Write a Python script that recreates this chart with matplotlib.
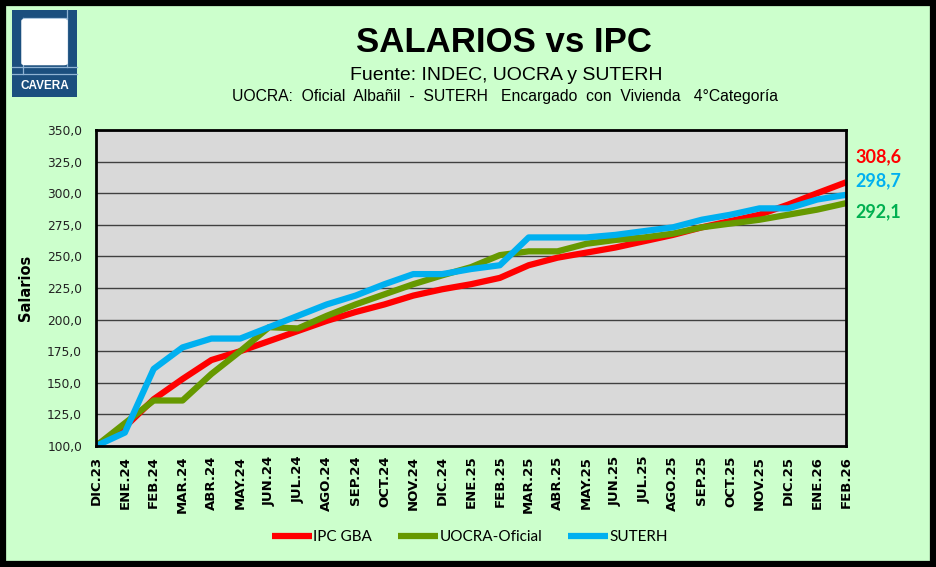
import matplotlib.pyplot as plt
from matplotlib.patches import Rectangle, FancyBboxPatch
from matplotlib.lines import Line2D

months = ['DIC.23', 'ENE.24', 'FEB.24', 'MAR.24', 'ABR.24', 'MAY.24', 'JUN.24', 'JUL.24', 'AGO.24',
          'SEP.24', 'OCT.24', 'NOV.24', 'DIC.24', 'ENE.25', 'FEB.25', 'MAR.25', 'ABR.25', 'MAY.25',
          'JUN.25', 'JUL.25', 'AGO.25', 'SEP.25', 'OCT.25', 'NOV.25', 'DIC.25', 'ENE.26', 'FEB.26']

ipc = [100, 115, 137, 153, 168, 175, 183, 191, 199, 206, 212, 219, 224, 228, 233, 243, 249, 253,
       257, 262, 267, 273, 278, 283, 291, 300, 308.6]
uocra = [100, 118, 136, 136, 157, 175, 194, 193, 203, 212, 220, 228, 235, 241.5, 251, 254, 254, 260,
         263, 265, 268, 273, 276, 279, 283, 287, 292.1]
suterh = [100, 110.6, 161, 178, 185, 185, 194, 203, 212, 219, 228, 236, 236, 240, 243, 265, 265, 265,
          267, 270, 273, 279, 283, 288, 288, 295, 298.7]

yticks = [100, 125, 150, 175, 200, 225, 250, 275, 300, 325, 350]

W, H = 936, 567
bg = '#CCFFCC'
fig = plt.figure(figsize=(9.36, 5.67), dpi=100, facecolor=bg)
plt.rcParams['font.family'] = ['Liberation Sans', 'DejaVu Sans']

def fx(px):
    return px / W

def fy(py):
    return 1 - py / H

# outer frame
fig.patches.append(Rectangle((0.003, 0.005), 0.994, 0.99, transform=fig.transFigure,
                             fill=False, edgecolor='black', linewidth=4.5))

# logo
blue = '#1B4F7E'
light = '#8FB3D3'
fig.patches.append(Rectangle((fx(12), fy(97)), fx(65), 87 / H, transform=fig.transFigure,
                             facecolor=blue, edgecolor='none'))
for xs, ys in [((22.7, 66.5), (18, 18)), ((66.5, 66.5), (10, 66.5)), ((12, 77), (66.5, 66.5)),
               ((22.7, 22.7), (18, 74)), ((12, 77), (74, 74))]:
    fig.lines.append(Line2D([fx(v) for v in xs], [fy(v) for v in ys], transform=fig.transFigure,
                            color=light, linewidth=0.9))
fig.patches.append(FancyBboxPatch((fx(25), fy(63)), fx(39), 42 / H, transform=fig.transFigure,
                                  boxstyle='round,pad=0.004', facecolor='white', edgecolor='none',
                                  zorder=5))
fig.text(fx(44.5), fy(86), 'CAVERA', color='white', fontsize=8.5, fontweight='bold',
         ha='center', va='center')

fig.text(fx(504), fy(43), 'SALARIOS vs IPC', fontsize=25, fontweight='bold', ha='center', va='center')
fig.text(fx(506), fy(75), 'Fuente: INDEC, UOCRA y SUTERH', fontsize=14, ha='center', va='center')
fig.text(fx(505), fy(97), 'UOCRA:  Oficial  Albañil  -  SUTERH   Encargado  con  Vivienda   4°Categoría',
         fontsize=11.3, ha='center', va='center')

ax = fig.add_axes([fx(96), fy(446), fx(750), 316 / H])
ax.set_facecolor('#D9D9D9')
x = list(range(len(months)))
ax.plot(x, ipc, color='#FF0000', linewidth=4.5, label='IPC GBA', solid_capstyle='butt')
ax.plot(x, uocra, color='#669900', linewidth=4.5, label='UOCRA-Oficial', solid_capstyle='butt')
ax.plot(x, suterh, color='#00B0F0', linewidth=4.5, label='SUTERH', solid_capstyle='butt')

ax.set_xlim(0, len(months) - 1)
ax.set_ylim(100, 350)
ax.set_yticks(yticks)
ax.set_yticklabels([f'{v:.1f}'.replace('.', ',') for v in yticks], fontsize=8.8,
                   family='DejaVu Sans', color='#222222')
ax.set_xticks(x)
ax.set_xticklabels(months, rotation=90, fontsize=9.5, fontweight='bold', family='DejaVu Sans')
ax.tick_params(axis='y', length=0, pad=10)
ax.tick_params(axis='x', length=0, pad=7)
ax.grid(axis='y', color='#404040', linewidth=1)
ax.set_axisbelow(True)
for s in ax.spines.values():
    s.set_linewidth(2)
ax.set_ylabel('Salarios', fontsize=10.5, fontweight='bold', family='DejaVu Sans', labelpad=10)

fig.text(fx(855), fy(157), '308,6', color='#FF0000', fontsize=13, fontweight='bold',
         family='Lato', va='center')
fig.text(fx(855), fy(181), '298,7', color='#00B0F0', fontsize=13, fontweight='bold',
         family='Lato', va='center')
fig.text(fx(855), fy(212), '292,1', color='#00B050', fontsize=13, fontweight='bold',
         family='Lato', va='center')

fig.legend(loc='center', bbox_to_anchor=(fx(470), fy(537)), ncol=3, frameon=False,
           prop={'family': 'Lato', 'size': 11}, handlelength=2.6, handletextpad=0.1,
           columnspacing=1.7)

fig.savefig('out.png', dpi=100, facecolor=bg)
